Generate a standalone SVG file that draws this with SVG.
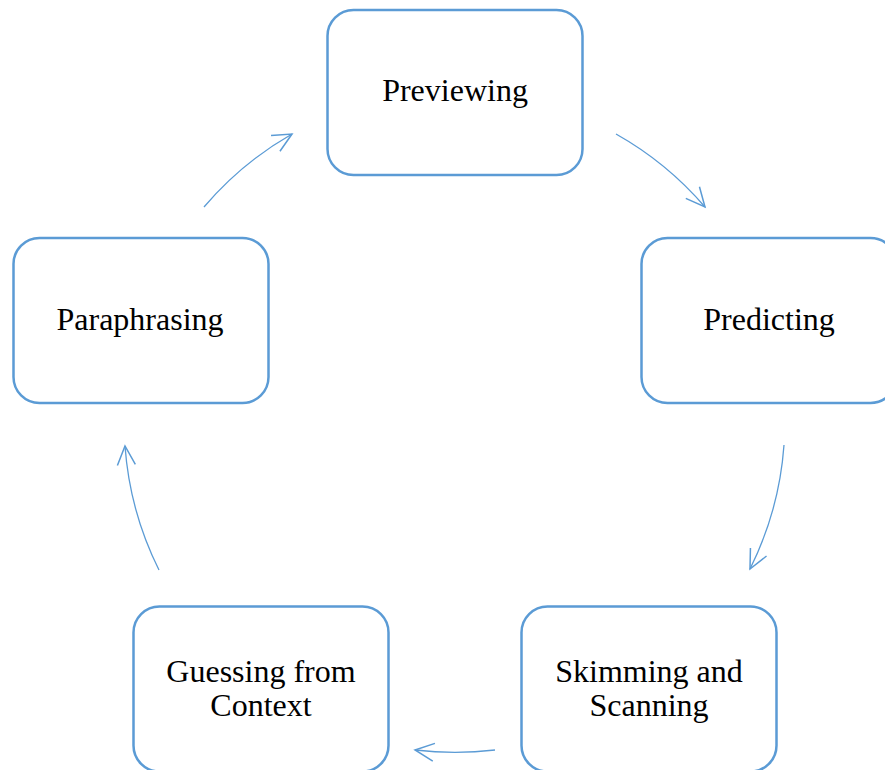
<svg xmlns="http://www.w3.org/2000/svg" width="885" height="770" viewBox="0 0 885 770">
<style>
.box{fill:#fff;stroke:#5B9BD5;stroke-width:2.5}
.lbl{font-family:"Liberation Serif","Times New Roman",serif;font-size:32px;fill:#000;text-anchor:middle}
.arc{fill:none;stroke:#5B9BD5;stroke-width:1.3}
</style>
<defs>
<marker id="ah" markerUnits="userSpaceOnUse" markerWidth="30" markerHeight="30" refX="20" refY="10" orient="auto" viewBox="0 0 30 20">
<path d="M1,1 L20,10 L1,19" fill="none" stroke="#5B9BD5" stroke-width="1.5"/>
</marker>
</defs>
<rect width="885" height="770" fill="#fff"/>
<g id="connectors">
<path class="arc" d="M204,207 A331,331 0 0 1 292,134" marker-end="url(#ah)"/>
<path class="arc" d="M616,134 A331,331 0 0 1 705,207" marker-end="url(#ah)"/>
<path class="arc" d="M784,445 A331,331 0 0 1 750,569" marker-end="url(#ah)"/>
<path class="arc" d="M495,750 A331,331 0 0 1 415,750" marker-end="url(#ah)"/>
<path class="arc" d="M159,570 A331,331 0 0 1 125,446" marker-end="url(#ah)"/>
</g>
<g id="previewing">
<rect class="box" x="327.5" y="10" width="255" height="165" rx="26"/>
<text class="lbl" x="455" y="101">Previewing</text>
</g>
<g id="predicting">
<rect class="box" x="641.5" y="238" width="255" height="165" rx="26"/>
<text class="lbl" x="769" y="330">Predicting</text>
</g>
<g id="skimming">
<rect class="box" x="521.5" y="606.5" width="255" height="165" rx="26"/>
<text class="lbl" x="649" y="682">Skimming and</text>
<text class="lbl" x="649" y="716">Scanning</text>
</g>
<g id="guessing">
<rect class="box" x="133.5" y="606.5" width="255" height="165" rx="26"/>
<text class="lbl" x="261" y="682">Guessing from</text>
<text class="lbl" x="261" y="716">Context</text>
</g>
<g id="paraphrasing">
<rect class="box" x="13.5" y="238" width="255" height="165" rx="26"/>
<text class="lbl" x="140" y="330">Paraphrasing</text>
</g>
</svg>
